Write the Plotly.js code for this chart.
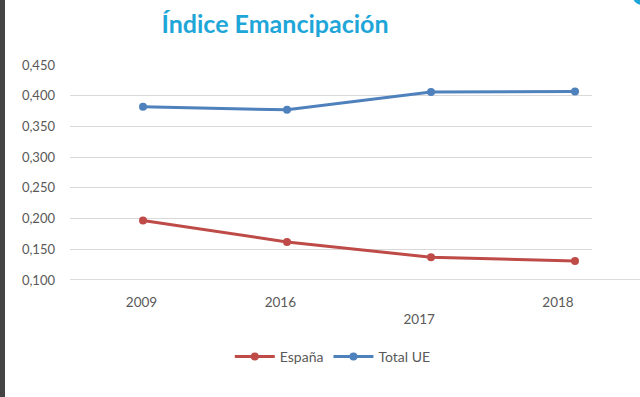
<!DOCTYPE html>
<html>
<head>
<meta charset="utf-8">
<script src="https://cdn.plot.ly/plotly-3.0.1.min.js"></script>
<style>
html,body{margin:0;padding:0;background:#fff;}
#chart{width:640px;height:397px;}
</style>
</head>
<body>
<div id="chart"></div>
<script>
var categories = ["2009", "2016", "2017", "2018"];
var tickLabels = ["2009", "2016", "<br>2017", "2018"];
var espana = [0.197, 0.162, 0.137, 0.131];
var totalUE = [0.382, 0.377, 0.406, 0.407];
var yTicks = [0.100, 0.150, 0.200, 0.250, 0.300, 0.350, 0.400, 0.450];
var yTickText = yTicks.map(function(v){ return v.toFixed(3).replace('.', ','); });
var idx = categories.map(function(c, i){ return i; });

var traces = [
  {x: idx, y: espana, name: "España", type: "scatter", mode: "lines+markers",
   line: {color: "#be4b48", width: 3}, marker: {color: "#be4b48", size: 8}},
  {x: idx, y: totalUE, name: "Total UE", type: "scatter", mode: "lines+markers",
   line: {color: "#4f81bd", width: 3}, marker: {color: "#4f81bd", size: 8}},
  {x: idx, y: espana, xaxis: "x2", type: "scatter", mode: "none", hoverinfo: "skip", showlegend: false}
];

var layout = {
  width: 640, height: 397,
  margin: {l: 70, r: 48, t: 65, b: 117},
  paper_bgcolor: "#ffffff", plot_bgcolor: "#ffffff",
  font: {family: "Lato, 'Open Sans', sans-serif", color: "#595959", size: 13},
  title: {text: "Índice Emancipación", font: {family: "Lato, sans-serif", size: 25, color: "#1fa6d8", weight: 700},
          x: 275/640, xref: "container", xanchor: "center", y: 1 - 24/397, yref: "container", yanchor: "middle"},
  xaxis: {range: [-0.507, 3.118], showticklabels: false, showgrid: false, zeroline: false, ticks: "", fixedrange: true},
  xaxis2: {overlaying: "x", anchor: "y", side: "bottom", range: [-0.515, 3.245], tickvals: idx, ticktext: tickLabels,
           showgrid: false, zeroline: false, ticks: "", ticklabelstandoff: 12, tickfont: {size: 13.5, color: "#595959"}},
  yaxis: {range: [0.1, 0.45], tickvals: yTicks, ticktext: yTickText, showgrid: true, gridcolor: "#d9d9d9", gridwidth: 1,
          zeroline: false, ticks: "", ticklabelstandoff: 14, tickfont: {size: 13, color: "#595959"}},
  legend: {orientation: "h", x: 0.52, xref: "container", xanchor: "center", y: 1 - 357/397, yref: "container", yanchor: "middle",
           font: {size: 14, color: "#595959"}, itemwidth: 40, tracegroupgap: 0},
  shapes: [
    {type: "line", xref: "paper", yref: "y", x0: 0, x1: 1.1, y0: 0.1, y1: 0.1, line: {color: "#cfcfcf", width: 1.5}},
    {type: "rect", xref: "paper", yref: "paper", x0: -70/522, x1: -65/522, y0: -117/215, y1: 1 + 65/215, fillcolor: "#444444", line: {width: 0}},
    {type: "circle", xref: "paper", yref: "paper", x0: (633-70)/522, x1: (653-70)/522, y0: 1 + (65-5)/215, y1: 1 + (65+11)/215, fillcolor: "#1fa6d8", line: {width: 0}}
  ],
  showlegend: true
};

Plotly.newPlot("chart", traces, layout, {displayModeBar: false, staticPlot: true});
</script>
</body>
</html>
